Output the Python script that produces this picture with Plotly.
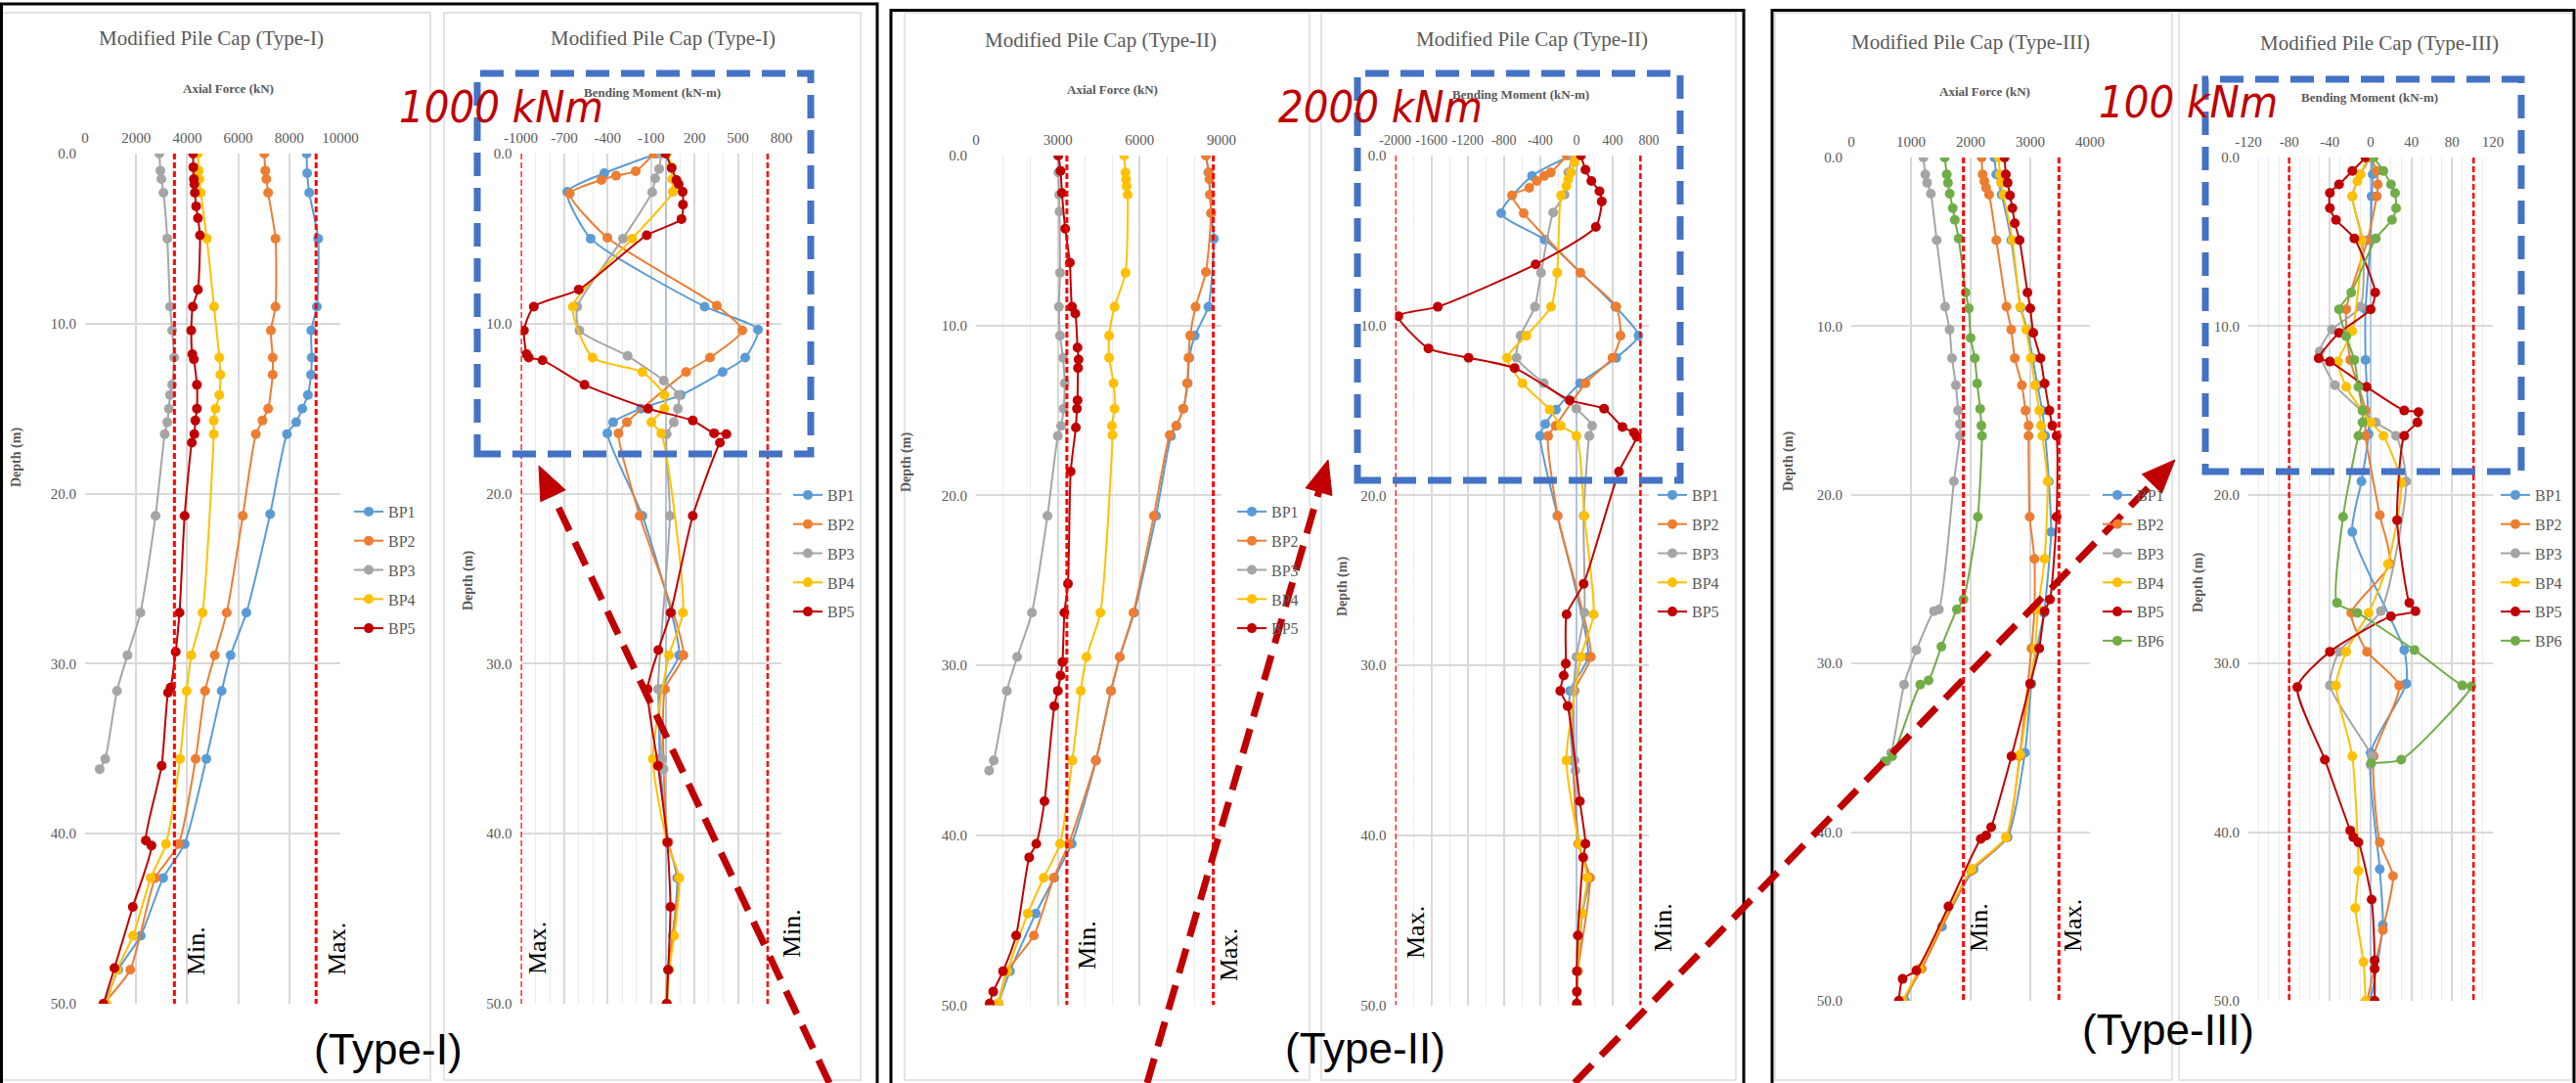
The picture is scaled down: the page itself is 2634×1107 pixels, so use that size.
import plotly.graph_objects as go

W, H = 2634, 1107


def px(x):
    return x / W


def py(y):
    return 1 - y / H


SERIF = "Liberation Serif, Times New Roman, serif"
GRAY = "#595959"
COLORS = {"BP1": "#5B9BD5", "BP2": "#ED7D31", "BP3": "#A5A5A5",
          "BP4": "#FFC000", "BP5": "#C00000", "BP6": "#70AD47"}

DEPTH_TICKS = [0, 10, 20, 30, 40, 50]
DEPTH_LABELS = ["0.0", "10.0", "20.0", "30.0", "40.0", "50.0"]

# ---------------- Type-I : axial force (kN) ----------------
T1A_BP1_D = [0, 1.15, 2.3, 5.0, 9.0, 10.4, 12.0, 13.0, 14.2, 15.0, 15.8, 16.5, 21.2, 27.0, 29.5, 31.6, 35.6, 40.6, 42.6, 46.0, 48.0, 50.0]
T1A_BP1 = [8680, 8700, 8780, 9130, 9080, 8860, 8880, 8850, 8730, 8510, 8270, 7910, 7250, 6320, 5700, 5350, 4750, 3900, 3060, 2180, 1300, 780]
T1A_BP2_D = [0, 1.0, 1.5, 2.3, 5.0, 9.0, 10.4, 12.0, 13.0, 15.0, 15.7, 16.5, 21.3, 27.0, 29.5, 31.6, 35.6, 40.6, 42.6, 48.0, 50.0]
T1A_BP2 = [7020, 7060, 7100, 7170, 7460, 7460, 7280, 7350, 7350, 7170, 6950, 6690, 6180, 5550, 5080, 4700, 4330, 3670, 2750, 1770, 720]
T1A_BP3_D = [0, 1.0, 1.5, 2.3, 5.0, 9.0, 10.4, 12.0, 13.6, 14.2, 15.0, 15.8, 16.5, 21.3, 27.0, 29.5, 31.6, 35.6, 36.2]
T1A_BP3 = [2910, 2950, 2990, 3070, 3220, 3330, 3410, 3490, 3410, 3330, 3280, 3220, 3120, 2760, 2170, 1660, 1250, 790, 570]
T1A_BP4_D = [0, 1.0, 1.5, 2.3, 5.0, 9.0, 12.0, 13.0, 14.2, 15.0, 15.7, 16.5, 27.0, 29.5, 31.6, 35.6, 40.6, 42.6, 46.0, 48.0, 50.0]
T1A_BP4 = [4420, 4450, 4480, 4530, 4770, 5050, 5260, 5300, 5260, 5110, 5040, 5040, 4600, 4160, 3980, 3720, 3170, 2570, 1880, 1250, 840]
T1A_BP5_D = [0, 0.8, 1.5, 1.8, 2.3, 3.1, 3.8, 4.8, 8.0, 9.0, 10.4, 11.8, 12.1, 13.6, 15.0, 15.7, 16.5, 17.0, 21.3, 27.0, 29.3, 31.4, 31.7, 36.0, 40.4, 40.7, 44.3, 47.9, 50.0]
T1A_BP5 = [4230, 4240, 4260, 4280, 4300, 4350, 4420, 4500, 4420, 4220, 4160, 4200, 4260, 4380, 4380, 4320, 4280, 4180, 3900, 3700, 3550, 3350, 3250, 3000, 2380, 2600, 1870, 1150, 720]

# ---------------- Type-I : bending moment (kN-m) ----------------
T1B_BP1_D = [0, 1.15, 2.25, 5.0, 9.0, 10.35, 12.0, 12.85, 14.2, 15.0, 15.8, 16.45, 21.3, 27.0, 29.5, 31.5, 35.6, 40.5, 42.6, 46.0, 48.0, 50.0]
T1B_BP1 = [-60, -423, -679, -517, 270, 638, 550, 394, 104, -170, -362, -402, -160, 40, 94, -30, -40, 20, 80, 50, 20, 10]
T1B_BP2_D = [0, 1.03, 1.3, 1.55, 2.35, 4.95, 8.95, 10.4, 12.0, 12.85, 15.8, 16.45, 21.3, 29.5, 31.5, 40.5, 42.6, 48.0, 50.0]
T1B_BP2 = [-80, -206, -342, -443, -662, -402, 354, 530, 307, 142, -267, -325, -179, 123, -4, 17, 90, 17, 6]
T1B_BP3_D = [0, 0.9, 1.45, 2.27, 5.0, 9.0, 10.4, 11.9, 13.35, 14.2, 15.0, 15.8, 16.5, 21.3, 31.5, 35.6, 36.2]
T1B_BP3 = [-30, -44, -72, -92, -294, -610, -595, -262, -12, 90, 85, 57, 8, 30, -52, -24, -14]
T1B_BP4_D = [0, 0.8, 1.5, 2.25, 5.0, 9.0, 12.0, 12.85, 14.2, 15.0, 15.8, 16.45, 27.0, 29.5, 35.6, 40.5, 42.6, 46.0, 48.0, 50.0]
T1B_BP4 = [10, 40, 45, 50, -230, -640, -505, -160, -8, -8, -98, -30, 120, 24, -88, 10, 94, 60, 25, 10]
T1B_BP5_D = [0, 0.85, 1.55, 1.8, 2.25, 3.0, 3.85, 4.8, 8.0, 9.0, 10.4, 11.8, 12.0, 12.15, 13.6, 15.0, 15.7, 16.45, 16.5, 17.0, 21.3, 27.0, 29.2, 31.5, 36.0, 40.5, 44.3, 48.0, 50.0]
T1B_BP5 = [0, 42, 75, 90, 118, 120, 110, -130, -600, -910, -978, -960, -945, -850, -560, -120, 188, 335, 420, 375, 188, 35, -50, -125, -52, 12, 34, 18, 8]

# ---------------- Type-II : axial force (kN) ----------------
T2A_BP1_D = [0, 1.0, 2.3, 3.4, 4.9, 8.9, 10.6, 11.9, 13.4, 14.9, 15.9, 16.5, 21.2, 26.9, 29.5, 31.5, 35.6, 40.5, 42.5, 44.6, 48.0, 49.9]
T2A_BP1 = [8430, 8520, 8580, 8620, 8720, 8520, 8020, 7820, 7760, 7600, 7350, 7150, 6600, 5800, 5270, 4950, 4400, 3510, 2870, 2190, 1245, 815]
T2A_BP2_D = [0, 1.0, 1.4, 2.3, 3.4, 6.85, 8.9, 10.6, 11.9, 13.4, 14.9, 15.9, 16.45, 21.2, 26.9, 29.5, 31.5, 35.6, 40.5, 42.5, 45.9, 48.0, 49.9]
T2A_BP2 = [8430, 8540, 8560, 8580, 8620, 8430, 8050, 7850, 7790, 7740, 7600, 7340, 7100, 6520, 5770, 5270, 4950, 4390, 3400, 2850, 2120, 1150, 815]
T2A_BP3_D = [0, 1.0, 2.3, 3.3, 6.9, 8.9, 10.6, 11.9, 13.4, 14.9, 15.9, 16.5, 21.2, 26.9, 29.5, 31.5, 35.6, 36.2]
T2A_BP3 = [3000, 3020, 3050, 3060, 3080, 3040, 3080, 3190, 3250, 3210, 3120, 3000, 2620, 2050, 1510, 1130, 650, 480]
T2A_BP4_D = [0, 1.0, 1.4, 1.8, 2.3, 6.9, 8.9, 10.6, 11.9, 13.4, 14.9, 15.9, 16.45, 26.9, 29.5, 31.5, 35.6, 40.5, 42.5, 44.6, 48.0, 49.9]
T2A_BP4 = [5430, 5480, 5500, 5520, 5560, 5480, 5080, 4880, 4880, 5040, 5080, 4980, 5000, 4560, 4050, 3840, 3530, 3080, 2480, 1900, 1150, 820]
T2A_BP5_D = [0, 0.9, 2.2, 4.3, 6.3, 8.9, 9.3, 11.3, 12.0, 12.5, 14.4, 14.9, 16.0, 18.6, 25.2, 26.9, 29.8, 30.6, 31.5, 32.4, 38.0, 40.5, 41.3, 45.9, 48.0, 49.2, 49.9]
T2A_BP5 = [3020, 3100, 3150, 3270, 3440, 3520, 3640, 3720, 3760, 3740, 3720, 3700, 3660, 3470, 3370, 3240, 3170, 3100, 3000, 2870, 2510, 2210, 1950, 1470, 990, 630, 500]

# ---------------- Type-II : bending moment (kN-m) ----------------
T2B_BP1_D = [0, 1.2, 3.4, 4.95, 8.9, 10.6, 11.9, 13.4, 14.95, 15.8, 16.5, 21.2, 29.5, 31.5, 35.6, 40.5, 42.5, 44.6, 48.0, 50.0]
T2B_BP1 = [-60, -490, -830, -350, 430, 685, 440, 40, -225, -344, -401, -210, 130, -70, -40, 30, 140, 65, 20, 5]
T2B_BP2_D = [0, 1.0, 1.2, 1.5, 1.9, 2.35, 3.4, 6.9, 8.9, 10.6, 11.9, 13.4, 15.9, 16.5, 21.2, 29.5, 31.5, 40.5, 42.5, 48.0, 50.0]
T2B_BP2 = [-106, -283, -355, -438, -520, -711, -582, 44, 440, 487, 398, 100, -230, -312, -206, 160, -20, 20, 150, 15, 5]
T2B_BP3_D = [0, 1.0, 2.3, 3.35, 6.9, 8.9, 10.6, 11.9, 13.4, 14.9, 15.9, 16.5, 21.2, 26.9, 29.5, 31.5, 35.6, 36.2]
T2B_BP3 = [-40, -90, -130, -256, -390, -458, -616, -660, -360, 0, 174, 142, 80, 88, 0, -30, -20, -10]
T2B_BP4_D = [0, 0.4, 1.0, 1.4, 1.8, 2.35, 6.9, 8.9, 10.6, 11.9, 13.4, 14.95, 15.9, 16.5, 21.2, 27.0, 29.5, 35.6, 40.5, 42.5, 44.6, 48.0, 50.0]
T2B_BP4 = [-5, -20, -60, -90, -110, -170, -212, -280, -552, -765, -595, -295, -172, 0, 88, 190, 50, -110, 30, 120, 60, 15, 5]
T2B_BP5_D = [0, 0.83, 1.5, 2.1, 2.7, 4.2, 6.4, 8.9, 9.45, 11.35, 11.9, 12.5, 14.4, 14.9, 15.97, 16.3, 16.55, 18.6, 25.2, 27.0, 29.9, 30.6, 31.5, 32.4, 38.0, 40.5, 41.3, 45.9, 48.0, 49.2, 49.9]
T2B_BP5 = [50, 100, 165, 255, 280, 215, -450, -1530, -1965, -1633, -1190, -682, -74, 306, 508, 635, 665, 470, 80, -108, -117, -140, -178, -97, 38, 100, 75, 16, 5, 5, 5]

# ---------------- Type-III : axial force (kN) ----------------
T3A_BP1_D = [0, 1.0, 2.2, 4.9, 8.9, 10.2, 11.9, 13.5, 15.0, 16.5, 19.2, 22.2, 27.0, 29.1, 31.2, 35.3, 40.3, 42.2, 45.6, 48.1, 50.0]
T3A_BP1 = [2400, 2430, 2520, 2680, 2840, 2950, 3040, 3120, 3200, 3250, 3310, 3350, 3230, 3110, 3020, 2910, 2620, 2050, 1520, 1140, 900]
T3A_BP2_D = [0, 1.0, 1.4, 1.8, 2.2, 4.9, 8.85, 10.2, 11.9, 13.5, 15.0, 15.9, 16.5, 21.3, 23.8, 26.8, 29.1, 35.5, 40.3, 42.3, 48.1, 50.0]
T3A_BP2 = [2185, 2200, 2230, 2260, 2310, 2430, 2600, 2680, 2740, 2860, 2920, 2970, 2970, 2990, 3070, 3070, 3020, 2820, 2600, 2010, 1180, 860]
T3A_BP3_D = [0, 1.0, 1.5, 2.15, 4.9, 8.85, 10.2, 11.9, 13.5, 15.0, 15.8, 16.5, 19.2, 26.8, 26.9, 29.2, 31.25, 35.3, 35.8]
T3A_BP3 = [1208, 1240, 1270, 1333, 1431, 1573, 1647, 1688, 1753, 1790, 1820, 1820, 1720, 1468, 1386, 1091, 885, 669, 590]
T3A_BP4_D = [0, 1.0, 1.5, 2.2, 4.9, 8.85, 10.2, 11.9, 13.5, 15.0, 15.9, 16.5, 19.2, 23.8, 26.8, 29.1, 35.4, 40.3, 42.2, 48.1, 50.0]
T3A_BP4 = [2470, 2490, 2510, 2550, 2700, 2830, 2930, 3010, 3080, 3150, 3180, 3200, 3290, 3240, 3130, 3080, 2830, 2590, 2015, 1140, 860]
T3A_BP5_D = [0, 1.0, 1.5, 2.25, 3.0, 3.9, 4.9, 8.0, 8.95, 10.4, 11.9, 13.4, 15.0, 15.9, 16.5, 21.3, 26.2, 26.9, 29.1, 31.2, 35.5, 39.7, 40.2, 40.4, 44.4, 48.2, 48.7, 50.0]
T3A_BP5 = [2569, 2590, 2620, 2660, 2700, 2740, 2820, 2953, 3000, 3050, 3170, 3240, 3320, 3370, 3440, 3440, 3330, 3240, 3150, 2997, 2685, 2345, 2260, 2170, 1629, 1091, 860, 795]
T3A_BP6_D = [0, 1.0, 1.5, 2.15, 3.0, 3.7, 4.8, 8.0, 8.95, 10.7, 11.9, 13.4, 14.9, 15.9, 16.5, 21.3, 26.2, 26.8, 29.0, 31.0, 31.25, 35.5, 35.8]
T3A_BP6 = [1566, 1600, 1620, 1650, 1700, 1735, 1800, 1915, 1970, 2000, 2070, 2110, 2160, 2180, 2190, 2120, 1880, 1770, 1510, 1295, 1155, 685, 558]

# ---------------- Type-III : bending moment (kN-m) ----------------
T3B_BP1_D = [0, 1.0, 2.3, 4.9, 9.0, 12.0, 16.4, 19.2, 22.2, 29.2, 31.2, 35.3, 42.2, 45.5, 50.0]
T3B_BP1 = [1, 2, 1, 0, -5, -5, -2, -9, -18, 33, 35, 0, 9, 12, 0]
T3B_BP2_D = [0, 0.8, 1.6, 2.3, 4.9, 9.0, 12.0, 15.0, 16.5, 21.2, 24.1, 27.0, 29.3, 31.3, 35.5, 40.6, 42.6, 45.8, 50.0]
T3B_BP2 = [0, 6, 7, 6, -3, -24, -20, -5, -5, 9, 19, -19, -3.5, 28, 3, 9, 22, 12, -3.5]
T3B_BP3_D = [0, 1.0, 2.3, 4.9, 8.85, 10.2, 11.5, 13.5, 15.7, 16.5, 19.2, 26.9, 29.3, 31.3, 35.5, 36.0]
T3B_BP3 = [0, -10, -18, -8, -10, -38, -50, -35, 5, 25, 35, 10, -31, -40, 1, 0]
T3B_BP4_D = [0, 1.0, 1.4, 2.3, 4.9, 10.3, 12.1, 13.6, 15.7, 16.5, 19.3, 24.1, 27.0, 29.3, 31.3, 35.5, 42.3, 44.5, 47.7, 50.0]
T3B_BP4 = [-3, -10, -13, -18, -9, -18, -32, -24, 0, 12.5, 30, 17, -2, -24, -34, -18, -12, -15, -7, -5]
T3B_BP5_D = [0, 0.8, 1.6, 2.1, 3.0, 3.7, 4.8, 8.0, 9.0, 10.4, 11.9, 12.1, 13.6, 15.0, 15.1, 15.7, 16.5, 21.5, 26.4, 26.9, 27.2, 29.3, 31.4, 35.7, 39.9, 40.3, 40.6, 44.0, 47.6, 48.1, 50.0]
T3B_BP5 = [-5, -18, -31, -40, -40, -34, -16, 4.5, 0, -31, -51, -40, -4, 33, 47, 46, 33, 26, 38, 44, 20, -40, -72, -45, -20, -17, -12, 1, 4, 4, 4]
T3B_BP6_D = [0, 0.8, 1.6, 2.1, 3.0, 3.7, 4.8, 8.0, 9.0, 10.6, 12.0, 13.6, 15.0, 15.7, 16.5, 21.3, 26.4, 27.0, 29.2, 31.3, 31.35, 35.7, 35.9]
T3B_BP6 = [3, 12.5, 20, 24, 25, 21, 5, -19, -31, -24, -16, -12, -8, -8, -12, -27, -33, -13, 43, 90, 99, 30, 0.6]

# axis ticks and allowable limits (Min./Max.)
A1_TICKS = [0, 2000, 4000, 6000, 8000, 10000]
B1_TICKS = [-1000, -700, -400, -100, 200, 500, 800]
A2_TICKS = [0, 3000, 6000, 9000]
B2_TICKS = [-2000, -1600, -1200, -800, -400, 0, 400, 800]
A3_TICKS = [0, 1000, 2000, 3000, 4000]
B3_TICKS = [-120, -80, -40, 0, 40, 80, 120]
A1_LIMITS = [3500, 9050]
B1_LIMITS = [-1000, 705]
A2_LIMITS = [3330, 8700]
B2_LIMITS = [-2000, 707]
A3_LIMITS = [1880, 3480]
B3_LIMITS = [-80, 101]

panels = [
    dict(n=1, xd=(87, 348), yd=(157, 1026), rng=[0, 10000], ticks=A1_TICKS, minor=None, zero=False, tfs=15,
         series=[("BP1", T1A_BP1_D, T1A_BP1), ("BP2", T1A_BP2_D, T1A_BP2), ("BP3", T1A_BP3_D, T1A_BP3),
                 ("BP4", T1A_BP4_D, T1A_BP4), ("BP5", T1A_BP5_D, T1A_BP5)],
         limits=A1_LIMITS, lw=3, leg=(357, 506)),
    dict(n=2, xd=(532.5, 799), yd=(157, 1026), rng=[-1000, 800], ticks=B1_TICKS, minor=100, zero=True, tfs=15,
         series=[("BP1", T1B_BP1_D, T1B_BP1), ("BP2", T1B_BP2_D, T1B_BP2), ("BP3", T1B_BP3_D, T1B_BP3),
                 ("BP4", T1B_BP4_D, T1B_BP4), ("BP5", T1B_BP5_D, T1B_BP5)],
         limits=B1_LIMITS, lw=2.5, leg=(806, 489)),
    dict(n=3, xd=(998, 1249), yd=(159, 1027.5), rng=[0, 9000], ticks=A2_TICKS, minor=1000, zero=False, tfs=15,
         series=[("BP1", T2A_BP1_D, T2A_BP1), ("BP2", T2A_BP2_D, T2A_BP2), ("BP3", T2A_BP3_D, T2A_BP3),
                 ("BP4", T2A_BP4_D, T2A_BP4), ("BP5", T2A_BP5_D, T2A_BP5)],
         limits=A2_LIMITS, lw=3, leg=(1260, 506)),
    dict(n=4, xd=(1426.6, 1686), yd=(159, 1027.5), rng=[-2000, 800], ticks=B2_TICKS, minor=200, zero=True, tfs=14,
         series=[("BP1", T2B_BP1_D, T2B_BP1), ("BP2", T2B_BP2_D, T2B_BP2), ("BP3", T2B_BP3_D, T2B_BP3),
                 ("BP4", T2B_BP4_D, T2B_BP4), ("BP5", T2B_BP5_D, T2B_BP5)],
         limits=B2_LIMITS, lw=2.5, leg=(1690, 489)),
    dict(n=5, xd=(1893, 2137), yd=(161, 1023), rng=[0, 4000], ticks=A3_TICKS, minor=None, zero=False, tfs=15,
         series=[("BP1", T3A_BP1_D, T3A_BP1), ("BP2", T3A_BP2_D, T3A_BP2), ("BP3", T3A_BP3_D, T3A_BP3),
                 ("BP4", T3A_BP4_D, T3A_BP4), ("BP5", T3A_BP5_D, T3A_BP5), ("BP6", T3A_BP6_D, T3A_BP6)],
         limits=A3_LIMITS, lw=3, leg=(2145, 489)),
    dict(n=6, xd=(2299, 2549), yd=(161, 1023), rng=[-120, 120], ticks=B3_TICKS, minor=10, zero=True, tfs=15,
         series=[("BP1", T3B_BP1_D, T3B_BP1), ("BP2", T3B_BP2_D, T3B_BP2), ("BP3", T3B_BP3_D, T3B_BP3),
                 ("BP4", T3B_BP4_D, T3B_BP4), ("BP5", T3B_BP5_D, T3B_BP5), ("BP6", T3B_BP6_D, T3B_BP6)],
         limits=B3_LIMITS, lw=2.5, leg=(2552, 489)),
]

fig = go.Figure()
shapes = []
annotations = []
layout = dict(width=W, height=H, margin=dict(l=0, r=0, t=0, b=0, pad=0, autoexpand=False), autosize=False,
              paper_bgcolor="white", plot_bgcolor="white", showlegend=True)

for p in panels:
    n = p["n"]
    xa = "xaxis" if n == 1 else f"xaxis{n}"
    ya = "yaxis" if n == 1 else f"yaxis{n}"
    xr = "x" if n == 1 else f"x{n}"
    yr = "y" if n == 1 else f"y{n}"
    lg = "legend" if n == 1 else f"legend{n}"
    xaxis = dict(domain=[px(p["xd"][0]), px(p["xd"][1])], anchor=yr, side="top", range=p["rng"],
                 tickmode="array", tickvals=p["ticks"], ticktext=[str(t) for t in p["ticks"]],
                 tickfont=dict(family=SERIF, size=p["tfs"], color=GRAY), tickangle=0, showgrid=True,
                 gridcolor="#d9d9d9", gridwidth=1.5, ticks="", showline=False, automargin=False,
                 zeroline=p["zero"], zerolinecolor="#b4c3da", zerolinewidth=1.5,
                 ticklabelstandoff=7, fixedrange=True)
    if p["minor"]:
        xaxis["minor"] = dict(tickmode="linear", tick0=p["rng"][0], dtick=p["minor"], showgrid=True,
                              gridcolor="#ececec", gridwidth=1, ticks="")
    layout[xa] = xaxis
    layout[ya] = dict(domain=[py(p["yd"][1]), py(p["yd"][0])], anchor=xr, range=[50, 0],
                      tickmode="array", tickvals=DEPTH_TICKS, ticktext=DEPTH_LABELS,
                      tickfont=dict(family=SERIF, size=15, color=GRAY), showgrid=True, automargin=False,
                      gridcolor="#d9d9d9", gridwidth=1.5, ticks="", zeroline=False, showline=False,
                      ticklabelstandoff=8, fixedrange=True)
    for name, d, v in p["series"]:
        fig.add_trace(go.Scatter(x=v, y=d, xaxis=xr, yaxis=yr, name=name, legend=lg,
                                 legendgroup=f"{n}{name}", mode="lines+markers",
                                 line=dict(color=COLORS[name], width=2, shape="spline", smoothing=0.6),
                                 marker=dict(color=COLORS[name], size=10)))
    layout[lg] = dict(x=px(p["leg"][0]), y=py(p["leg"][1]), xanchor="left", yanchor="top",
                      font=dict(family=SERIF, size=16, color=GRAY), bgcolor="rgba(0,0,0,0)",
                      tracegroupgap=6, traceorder="grouped")
    for lim in p["limits"]:
        shapes.append(dict(type="line", xref=xr, yref=yr, x0=lim, x1=lim, y0=0, y1=50,
                           line=dict(color="#FF0000", width=p["lw"], dash="6px,3px"), layer="above"))

# ---------------- text ----------------
titles = [("Modified Pile Cap (Type-I)", 216, 39), ("Modified Pile Cap (Type-I)", 678, 39),
          ("Modified Pile Cap (Type-II)", 1125, 41), ("Modified Pile Cap (Type-II)", 1566, 40),
          ("Modified Pile Cap (Type-III)", 2015, 43), ("Modified Pile Cap (Type-III)", 2433, 44)]
for t, x, y in titles:
    annotations.append(dict(text=t, x=px(x), y=py(y), xref="paper", yref="paper", showarrow=False,
                            xanchor="center", yanchor="middle",
                            font=dict(family=SERIF, size=21, color=GRAY)))

axis_titles = [("Axial Force (kN)", 233, 90), ("Bending Moment (kN-m)", 667, 95),
               ("Axial Force (kN)", 1137, 91), ("Bending Moment (kN-m)", 1555, 96),
               ("Axial Force (kN)", 2029, 93), ("Bending Moment (kN-m)", 2423, 99)]
for t, x, y in axis_titles:
    annotations.append(dict(text=f"<b>{t}</b>", x=px(x), y=py(y), xref="paper", yref="paper",
                            showarrow=False, xanchor="center", yanchor="middle",
                            font=dict(family=SERIF, size=13, color=GRAY)))

depth_titles = [(17, 468), (479, 594), (927, 473), (1373, 600), (1829, 471), (2248, 596)]
for x, y in depth_titles:
    annotations.append(dict(text="<b>Depth (m)</b>", x=px(x), y=py(y), xref="paper", yref="paper",
                            showarrow=False, textangle=-90, xanchor="center", yanchor="middle",
                            font=dict(family=SERIF, size=14, color=GRAY)))

minmax = [("Min.", 200, 972), ("Max.", 344, 970), ("Max.", 549, 969), ("Min.", 809, 954),
          ("Min.", 1111, 966), ("Max.", 1257, 976), ("Max.", 1447, 953), ("Min.", 1700, 948),
          ("Min.", 2023, 948), ("Max.", 2119, 946)]
for t, x, y in minmax:
    annotations.append(dict(text=t, x=px(x), y=py(y), xref="paper", yref="paper", showarrow=False,
                            textangle=-90, xanchor="center", yanchor="middle",
                            font=dict(family=SERIF, size=26, color="black")))

scale_notes = [("1000 kNm", 512, 109), ("2000 kNm", 1412, 109), ("100 kNm", 2237, 105)]
for t, x, y in scale_notes:
    annotations.append(dict(text=t, x=px(x), y=py(y), xref="paper", yref="paper", showarrow=False,
                            xanchor="center", yanchor="middle",
                            font=dict(family="Liberation Sans Narrow, DejaVu Sans Condensed, Liberation Sans",
                                      size=45, color="#C00000", style="italic")))

type_labels = [("(Type-I)", 397, 1072), ("(Type-II)", 1396, 1071), ("(Type-III)", 2217, 1052)]
for t, x, y in type_labels:
    annotations.append(dict(text=t, x=px(x), y=py(y), xref="paper", yref="paper", showarrow=False,
                            xanchor="center", yanchor="middle",
                            font=dict(family="Liberation Sans, Arial", size=44, color="black")))

# ---------------- frames ----------------
for x0, x1 in [(2, 440), (454, 880), (925, 1339), (1351, 1775), (1815, 2221), (2228, 2630)]:
    shapes.append(dict(type="rect", xref="paper", yref="paper", x0=px(x0), x1=px(x1),
                       y0=py(1104), y1=py(13), line=dict(color="#e4e4e4", width=2), layer="below"))
for x0, x1, y0 in [(1.5, 897, 4), (911, 1783, 10.5), (1812, 2632, 10.5)]:
    shapes.append(dict(type="rect", xref="paper", yref="paper", x0=px(x0), x1=px(x1),
                       y0=py(1120), y1=py(y0), line=dict(color="black", width=3), layer="above"))

# blue dashed highlight boxes
for x0, x1, y0, y1 in [(488, 829, 75, 464), (1388, 1718, 75, 491), (2255, 2578, 81, 482)]:
    shapes.append(dict(type="rect", xref="paper", yref="paper", x0=px(x0), x1=px(x1),
                       y0=py(y1), y1=py(y0), line=dict(color="#4472C4", width=7, dash="24px,12px"),
                       layer="above"))

# red dashed arrows (tail -> tip, in pixels)
ARROWS = [((848, 1107), (551, 476)), ((1173, 1107), (1358, 470)), ((1610, 1107), (2224, 470))]
for (tx, ty), (hx, hy) in ARROWS:
    dx, dy = hx - tx, hy - ty
    L = (dx * dx + dy * dy) ** 0.5
    ux, uy = dx / L, dy / L
    hl, hw = 34, 14
    bx, by = hx - ux * hl, hy - uy * hl
    shapes.append(dict(type="line", xref="paper", yref="paper", x0=px(tx), y0=py(ty), x1=px(bx), y1=py(by),
                       line=dict(color="#C00000", width=7, dash="26px,13px"), layer="above"))
    nx, ny = -uy, ux
    pts = [(hx, hy), (bx + nx * hw, by + ny * hw), (bx - nx * hw, by - ny * hw)]
    path = "M " + " L ".join(f"{px(a):.6f},{py(b):.6f}" for a, b in pts) + " Z"
    shapes.append(dict(type="path", xref="paper", yref="paper", path=path, fillcolor="#C00000",
                       line=dict(color="#C00000", width=1), layer="above"))

layout["shapes"] = shapes
layout["annotations"] = annotations
fig.update_layout(**layout)
fig.write_html("out.html", config={"displayModeBar": False},
               post_script="document.body.style.margin='0px';document.body.style.overflow='hidden';")
